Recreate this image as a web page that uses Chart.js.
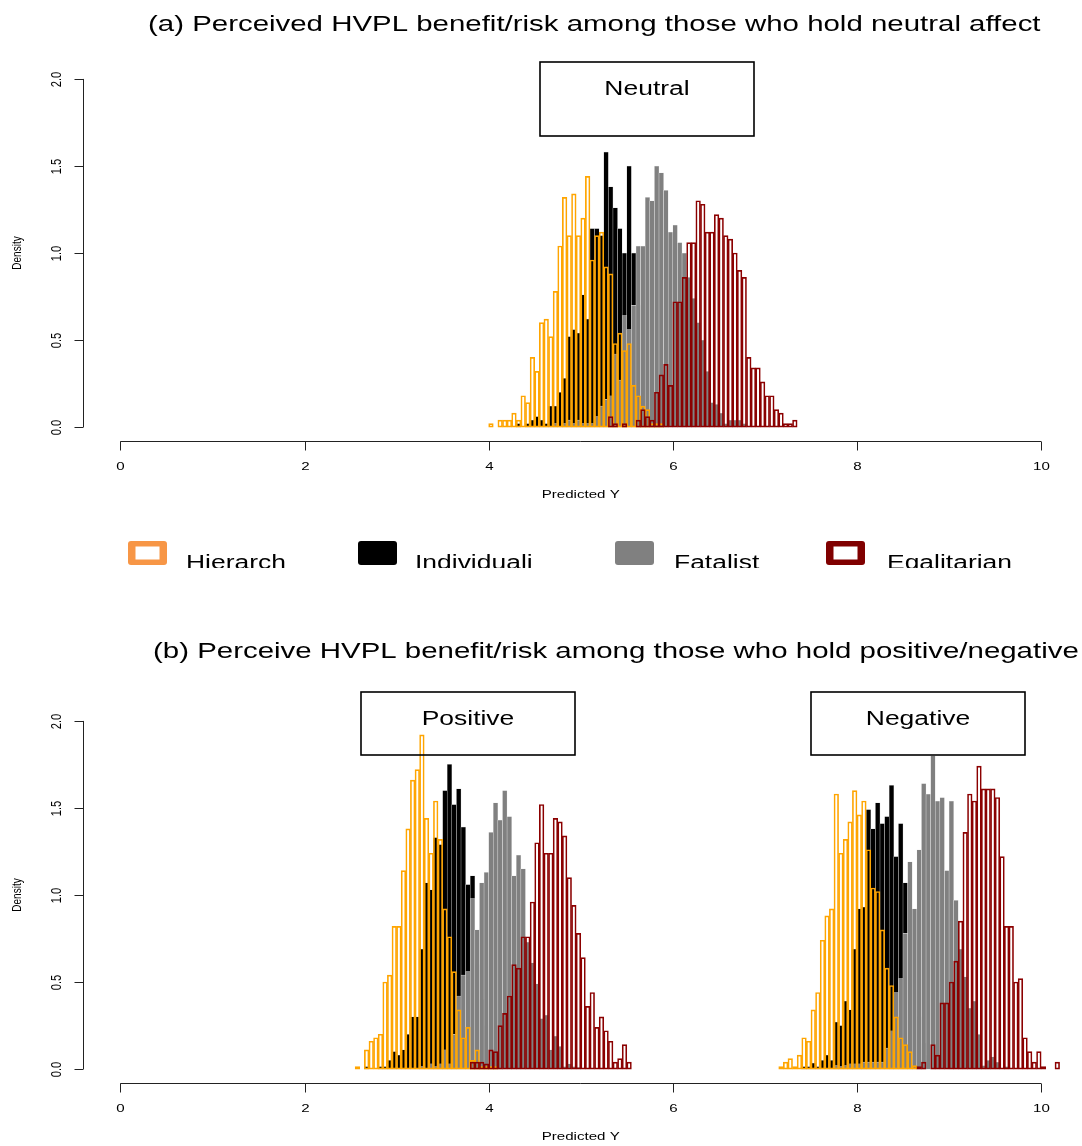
<!DOCTYPE html>
<html>
<head>
<meta charset="utf-8">
<script src="https://cdn.jsdelivr.net/npm/chart.js@4.4.0/dist/chart.umd.min.js"></script>
<style>
  html, body { margin: 0; padding: 0; background: #fff; }
  #wrap { position: relative; width: 1082px; height: 1146px; overflow: hidden; }
  #wrapA { position: absolute; left: 0; top: 0; width: 1082px; height: 568px; }
  #wrapB { position: absolute; left: 0; top: 568px; width: 1082px; height: 578px; }
</style>
</head>
<body>
<div id="wrap">
  <div id="wrapA"><canvas id="chartA"></canvas></div>
  <div id="wrapB"><canvas id="chartB"></canvas></div>
</div>
<script>
// histogram bins are 0.05 wide, each series starts at its own bin
var binWidth = 0.05;
var xTicks = [0, 2, 4, 6, 8, 10];
var yTicks = [0, 0.5, 1, 1.5, 2];
var yTickLabels = ['0.0', '0.5', '1.0', '1.5', '2.0'];
var seriesNames = ['Hierarch', 'Individuali', 'Fatalist', 'Egalitarian'];

// (a) neutral affect
var neutralHierarchStart = 4.00;
var neutralHierarch = [0.02, 0, 0.04, 0.04, 0.04, 0.08, 0.04, 0.18, 0.14, 0.40, 0.32, 0.60, 0.62, 0.52, 0.78, 1.04,
  1.32, 1.10, 1.34, 1.10, 1.20, 1.44, 0.96, 1.10, 1.12, 0.92, 0.88, 0.48, 0.54, 0.44, 0.48, 0.24, 0.18, 0.12, 0.10, 0.02, 0.02, 0.02];
var neutralIndividualiStart = 4.30;
var neutralIndividuali = [0.02, 0, 0.02, 0.04, 0.06, 0.04, 0.02, 0.12, 0.12, 0.20, 0.28, 0.52, 0.56, 0.54, 0.76, 0.62,
  1.14, 1.14, 1.10, 1.58, 1.38, 1.26, 1.14, 1.00, 1.50, 1.00, 0.70, 0.50, 0.30, 0.18, 0.10, 0.04, 0.02];
var neutralFatalistStart = 4.70;
var neutralFatalist = [0.02, 0, 0.02, 0.04, 0.02, 0.04, 0.02, 0.02, 0.02, 0.06, 0.12, 0.16, 0.18, 0.42, 0.27, 0.64, 0.56, 0.70,
  1.04, 1.04, 1.32, 1.30, 1.50, 1.46, 1.36, 1.12, 1.16, 1.06, 1.00, 0.86, 0.74, 0.60, 0.50, 0.32, 0.14, 0.13, 0.08, 0.02, 0.04, 0.04, 0.04, 0.02];
var neutralEgalitarianStart = 5.30;
var neutralEgalitarian = [0.06, 0.02, 0, 0.02, 0, 0, 0.04, 0.10, 0.06, 0.04, 0.20, 0.30, 0.36, 0.24, 0.72, 0.72, 0.86,
  1.06, 1.06, 1.30, 1.28, 1.12, 1.12, 1.22, 1.20, 1.10, 1.08, 1.00, 0.90, 0.86, 0.40, 0.34, 0.34, 0.26, 0.18, 0.18, 0.10, 0.08, 0.02, 0.02, 0.04];

// (b) positive affect
var positiveHierarchStart = 2.55;
var positiveHierarch = [0.015, 0, 0.11, 0.16, 0.18, 0.20, 0.50, 0.54, 0.82, 0.82, 1.14, 1.38, 1.66, 1.72, 1.92, 1.44,
  1.24, 1.54, 1.32, 0.92, 0.76, 0.56, 0.34, 0.18, 0.24, 0.05, 0.11, 0.015, 0.015, 0.015, 0.015];
var positiveIndividualiStart = 2.65;
var positiveIndividuali = [0.015, 0, 0, 0.015, 0.015, 0.05, 0.10, 0.08, 0.11, 0.20, 0.30, 0.30, 0.69, 1.07, 1.03, 1.33,
  1.29, 1.60, 1.75, 1.52, 1.61, 1.39, 1.06, 1.11, 0.60, 0.40, 0.25, 0.12, 0.06, 0.02];
var positiveFatalistStart = 3.25;
var positiveFatalist = [0.015, 0, 0.03, 0.015, 0.03, 0.11, 0.03, 0.20, 0.42, 0.54, 0.56, 0.98, 0.80, 1.07, 1.13, 1.36,
  1.53, 1.43, 1.60, 1.45, 1.11, 1.23, 1.15, 0.73, 0.61, 0.49, 0.29, 0.31, 0.11, 0.19, 0.13, 0.015, 0.03, 0.015, 0.01];
var positiveEgalitarianStart = 3.80;
var positiveEgalitarian = [0.04, 0.04, 0.04, 0.03, 0.11, 0.10, 0.25, 0.32, 0.42, 0.60, 0.58, 0.76, 0.76, 0.96, 1.30, 1.52,
  1.24, 1.24, 1.44, 1.42, 1.34, 1.10, 0.94, 0.78, 0.64, 0.36, 0.44, 0.24, 0.30, 0.22, 0.16, 0.04, 0.06, 0.14, 0.04];

// (b) negative affect
var negativeHierarchStart = 7.15;
var negativeHierarch = [0.015, 0.04, 0.06, 0.015, 0.08, 0.18, 0.16, 0.34, 0.44, 0.74, 0.88, 0.92, 1.58, 1.24, 1.32, 1.42,
  1.60, 1.46, 1.54, 1.26, 1.04, 1.02, 0.80, 0.58, 0.48, 0.30, 0.18, 0.14, 0.10, 0.02];
var negativeIndividualiStart = 7.40;
var negativeIndividuali = [0.015, 0.015, 0.035, 0.015, 0.05, 0.08, 0.05, 0.27, 0.25, 0.39, 0.34, 0.69, 0.92, 0.93, 1.49,
  1.38, 1.53, 1.41, 1.45, 1.63, 1.22, 1.41, 1.07, 0.70, 0.50, 0.30, 0.15, 0.08, 0.03];
var negativeFatalistStart = 7.75;
var negativeFatalist = [0.02, 0.015, 0.02, 0.03, 0.03, 0.03, 0.04, 0.04, 0.04, 0.04, 0.04, 0.12, 0.22, 0.44, 0.52, 0.78,
  1.19, 0.92, 1.26, 1.64, 1.58, 1.80, 1.54, 1.56, 1.14, 1.54, 0.97, 0.69, 0.53, 0.35, 0.39, 0.20, 0.02, 0.05, 0.07, 0.04, 0, 0.015];
var negativeEgalitarianStart = 8.65;
var negativeEgalitarian = [0.015, 0.04, 0, 0.14, 0.08, 0.38, 0.38, 0.50, 0.62, 0.85, 1.36, 1.58, 1.54, 1.74, 1.61, 1.61,
  1.61, 1.56, 1.22, 0.82, 0.82, 0.50, 0.52, 0.18, 0.10, 0.04, 0.10, 0.015, 0, 0, 0.04];

var seriesStyle = {
  Hierarch: { backgroundColor: 'rgba(0,0,0,0)', borderColor: '#FFA500', borderWidth: 1, order: 1 },
  Individuali: { backgroundColor: '#000000', borderColor: '#cccccc', borderWidth: 0.5, order: 3 },
  Fatalist: { backgroundColor: '#808080', borderColor: '#e8e8e8', borderWidth: 0.5, order: 2 },
  Egalitarian: { backgroundColor: 'rgba(0,0,0,0)', borderColor: '#8B0000', borderWidth: 1, order: 0 }
};
var legendFill = { Hierarch: '#F79646', Individuali: '#000000', Fatalist: '#808080', Egalitarian: '#800000' };

var FONT = '"Liberation Sans", Arial, Helvetica, sans-serif';
var SX = 1.35; // the picture is stretched sideways

function toPoints(start, values) {
  return values.map(function(v, i) {
    // round the bin centre so every series shares the same grid
    var x = Math.round((start + binWidth * (i + 0.5)) * 1000) / 1000;
    return { x: x, y: v };
  });
}

function makeDataset(name, points) {
  var s = seriesStyle[name];
  return {
    label: name,
    data: points,
    backgroundColor: s.backgroundColor,
    borderColor: s.borderColor,
    borderWidth: s.borderWidth,
    borderSkipped: false,
    order: s.order,
    grouped: false,
    barPercentage: 1,
    categoryPercentage: 1
  };
}

function text(ctx, str, x, y, size, align, baseline, angle) {
  ctx.save();
  ctx.translate(x, y);
  ctx.scale(SX, 1);
  if (angle) ctx.rotate(angle);
  ctx.font = size + 'px ' + FONT;
  ctx.textAlign = align || 'center';
  ctx.textBaseline = baseline || 'alphabetic';
  ctx.fillStyle = '#000';
  ctx.fillText(str, 0, 0);
  ctx.restore();
}

function line(ctx, x1, y1, x2, y2) {
  ctx.beginPath();
  ctx.moveTo(x1, y1);
  ctx.lineTo(x2, y2);
  ctx.stroke();
}

function roundRect(ctx, x, y, w, h, r) {
  ctx.beginPath();
  ctx.moveTo(x + r, y);
  ctx.lineTo(x + w - r, y);
  ctx.quadraticCurveTo(x + w, y, x + w, y + r);
  ctx.lineTo(x + w, y + h - r);
  ctx.quadraticCurveTo(x + w, y + h, x + w - r, y + h);
  ctx.lineTo(x + r, y + h);
  ctx.quadraticCurveTo(x, y + h, x, y + h - r);
  ctx.lineTo(x, y + r);
  ctx.quadraticCurveTo(x, y, x + r, y);
  ctx.closePath();
}

// R-like axes, titles, boxed labels and the legend row
var rDecor = {
  id: 'rDecor',
  afterDraw: function(chart, args, opts) {
    var ctx = chart.ctx;
    var xs = chart.scales.x, ys = chart.scales.y;
    var area = chart.chartArea;
    ctx.save();
    ctx.strokeStyle = '#222';
    ctx.lineWidth = 1;

    // x axis
    var axY = Math.round(area.bottom) + 0.5;
    line(ctx, xs.getPixelForValue(xTicks[0]), axY, xs.getPixelForValue(xTicks[xTicks.length - 1]), axY);
    xTicks.forEach(function(v) {
      var px = Math.round(xs.getPixelForValue(v)) + 0.5;
      line(ctx, px, axY, px, axY + 9);
      text(ctx, String(v), px, area.bottom + 29, 11.2, 'center');
    });
    text(ctx, 'Predicted Y', (area.left + area.right) / 2, area.bottom + 57, 11.2, 'center');

    // y axis
    var axX = Math.round(area.left) - 0.5;
    line(ctx, axX, ys.getPixelForValue(yTicks[0]), axX, ys.getPixelForValue(yTicks[yTicks.length - 1]));
    yTicks.forEach(function(v, i) {
      var py = Math.round(ys.getPixelForValue(v)) + 0.5;
      line(ctx, axX - 9, py, axX, py);
      text(ctx, yTickLabels[i], area.left - 27, py, 11.2, 'center', 'middle', -Math.PI / 2);
    });
    var midY = (ys.getPixelForValue(0) + ys.getPixelForValue(2)) / 2;
    text(ctx, 'Density', 17, midY, 10, 'center', 'middle', -Math.PI / 2);

    // title
    text(ctx, opts.title, opts.titleX, opts.titleY, 21.8, 'left');

    // boxed group labels
    ctx.lineWidth = 1.6;
    ctx.strokeStyle = '#000';
    opts.boxes.forEach(function(b) {
      ctx.strokeRect(b.x, b.y, b.w, b.h);
      text(ctx, b.label, b.x + b.w / 2, b.ty, 19.6, 'center');
    });

    // legend
    if (opts.legend) {
      opts.legend.forEach(function(item) {
        var name = item.name;
        roundRect(ctx, item.x, item.y, 39, 24, 3);
        ctx.fillStyle = legendFill[name];
        ctx.fill();
        if (name === 'Hierarch' || name === 'Egalitarian') {
          ctx.fillStyle = '#fff';
          ctx.fillRect(item.x + 7.5, item.y + 5.5, 24, 13);
        }
        text(ctx, name, item.tx, item.ty, 19.6, 'left');
      });
    }
    ctx.restore();
  }
};

function makeChart(id, datasets, padding, decor) {
  return new Chart(document.getElementById(id), {
    type: 'bar',
    data: { datasets: datasets },
    options: {
      responsive: true,
      maintainAspectRatio: false,
      animation: false,
      layout: { padding: padding },
      scales: {
        x: { type: 'linear', min: -0.4, max: 10.4, offset: false, display: false, grid: { offset: false } },
        y: { type: 'linear', min: -0.08, max: 2.08, display: false }
      },
      plugins: {
        legend: { display: false },
        tooltip: { enabled: false },
        rDecor: decor
      }
    },
    plugins: [rDecor]
  });
}

var datasetsA = [
  makeDataset('Hierarch', toPoints(neutralHierarchStart, neutralHierarch)),
  makeDataset('Individuali', toPoints(neutralIndividualiStart, neutralIndividuali)),
  makeDataset('Fatalist', toPoints(neutralFatalistStart, neutralFatalist)),
  makeDataset('Egalitarian', toPoints(neutralEgalitarianStart, neutralEgalitarian))
];

var datasetsB = [
  makeDataset('Hierarch', toPoints(positiveHierarchStart, positiveHierarch).concat(toPoints(negativeHierarchStart, negativeHierarch))),
  makeDataset('Individuali', toPoints(positiveIndividualiStart, positiveIndividuali).concat(toPoints(negativeIndividualiStart, negativeIndividuali))),
  makeDataset('Fatalist', toPoints(positiveFatalistStart, positiveFatalist).concat(toPoints(negativeFatalistStart, negativeFatalist))),
  makeDataset('Egalitarian', toPoints(positiveEgalitarianStart, positiveEgalitarian).concat(toPoints(negativeEgalitarianStart, negativeEgalitarian)))
];

makeChart('chartA', datasetsA, { left: 83.5, right: 4, top: 65, bottom: 127 }, {
  title: '(a) Perceived HVPL benefit/risk among those who hold neutral affect',
  titleX: 148, titleY: 31,
  boxes: [{ label: 'Neutral', x: 540, y: 62, w: 214, h: 74, ty: 95 }],
  legend: [
    { name: 'Hierarch', x: 128, y: 541, tx: 186, ty: 568.5 },
    { name: 'Individuali', x: 358, y: 541, tx: 415, ty: 568.5 },
    { name: 'Fatalist', x: 615, y: 541, tx: 674, ty: 568.5 },
    { name: 'Egalitarian', x: 826, y: 541, tx: 887, ty: 568.5 }
  ]
});

makeChart('chartB', datasetsB, { left: 83.5, right: 4, top: 139, bottom: 63 }, {
  title: '(b) Perceive HVPL benefit/risk among those who hold positive/negative',
  titleX: 153, titleY: 90,
  boxes: [
    { label: 'Positive', x: 361, y: 124, w: 214, h: 63, ty: 157 },
    { label: 'Negative', x: 811, y: 124, w: 214, h: 63, ty: 157 }
  ],
  legend: null
});
</script>
</body>
</html>
